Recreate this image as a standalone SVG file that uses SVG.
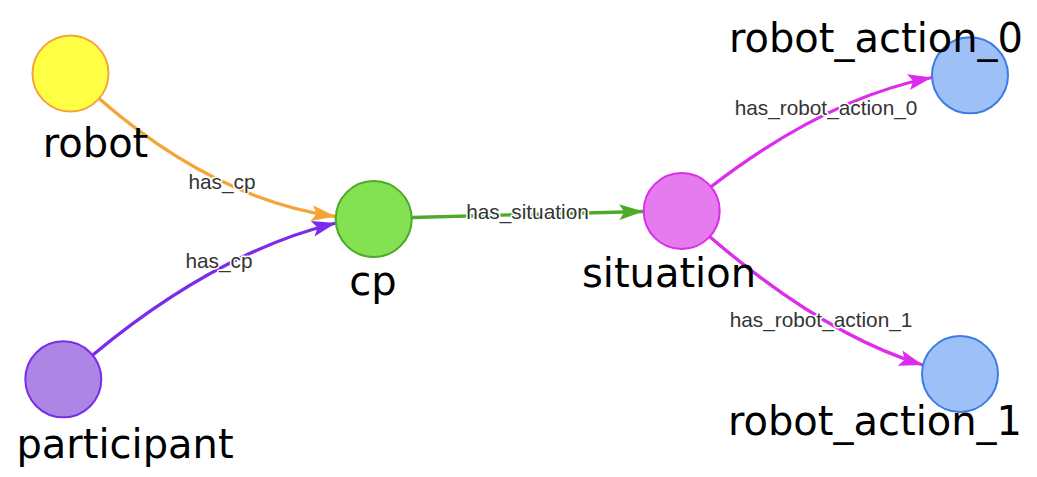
<svg xmlns="http://www.w3.org/2000/svg" width="1037" height="477" viewBox="0 0 1037 477">
<style>
.node circle{stroke-width:2}
.nlabel{font-family:"DejaVu Sans",sans-serif;font-size:40px;fill:#000;text-anchor:middle}
.edge{fill:none;stroke-width:3.3}
.elabel{font-family:"Liberation Sans",Arial,sans-serif;font-size:20.8px;fill:#343434;text-anchor:middle;stroke:#fff;stroke-width:3;paint-order:stroke;stroke-linejoin:round}
</style>
<defs>
<marker id="aOrange" markerUnits="userSpaceOnUse" orient="auto" viewBox="-26 -10 27 20" refX="0" refY="0" markerWidth="27" markerHeight="20"><path d="M0,0 L-24,-8 L-19,0 L-24,8 Z" fill="#F5A435"/></marker>
<marker id="aPurple" markerUnits="userSpaceOnUse" orient="auto" viewBox="-26 -10 27 20" refX="0" refY="0" markerWidth="27" markerHeight="20"><path d="M0,0 L-24,-8 L-19,0 L-24,8 Z" fill="#7B2BEA"/></marker>
<marker id="aGreen" markerUnits="userSpaceOnUse" orient="auto" viewBox="-26 -10 27 20" refX="0" refY="0" markerWidth="27" markerHeight="20"><path d="M0,0 L-24,-8 L-19,0 L-24,8 Z" fill="#4CAA26"/></marker>
<marker id="aMagenta" markerUnits="userSpaceOnUse" orient="auto" viewBox="-26 -10 27 20" refX="0" refY="0" markerWidth="27" markerHeight="20"><path d="M0,0 L-24,-8 L-19,0 L-24,8 Z" fill="#DD2DEC"/></marker>
</defs>
<g id="connectors">
<path class="edge" d="M99,98.5 Q214,199 335.5,216.5" stroke="#F5A435" marker-end="url(#aOrange)"/>
<path class="edge" d="M92.8,354.9 Q217,252 336,223" stroke="#7B2BEA" marker-end="url(#aPurple)"/>
<path class="edge" d="M412,217.5 L643.3,211.5" stroke="#4CAA26" marker-end="url(#aGreen)"/>
<path class="edge" d="M710,187.5 Q826,98 932,77.5" stroke="#DD2DEC" marker-end="url(#aMagenta)"/>
<path class="edge" d="M709.5,236.5 Q824,335 923,365" stroke="#DD2DEC" marker-end="url(#aMagenta)"/>
<text class="elabel" x="222" y="189">has_cp</text>
<text class="elabel" x="219" y="268">has_cp</text>
<text class="elabel" x="527.5" y="219">has_situation</text>
<text class="elabel" x="826" y="115">has_robot_action_0</text>
<text class="elabel" x="821" y="327">has_robot_action_1</text>
</g>
<g id="robot" class="node"><circle cx="70.5" cy="73.5" r="38" fill="#FFFF44" stroke="#F6A43A"/><text class="nlabel" x="95.5" y="157">robot</text></g>
<g id="participant" class="node"><circle cx="63.3" cy="379.3" r="38" fill="#AD85E4" stroke="#7B2BEA"/><text class="nlabel" x="125" y="458">participant</text></g>
<g id="cp" class="node"><circle cx="373.7" cy="219" r="38" fill="#83E152" stroke="#4CAA26"/><text class="nlabel" x="373" y="295">cp</text></g>
<g id="situation" class="node"><circle cx="681.7" cy="211" r="38" fill="#E57BEE" stroke="#DB2EE8"/><text class="nlabel" x="669" y="287">situation</text></g>
<g id="robot_action_0" class="node"><circle cx="970" cy="75.3" r="38" fill="#9DC1F7" stroke="#3C7CE4"/><text class="nlabel" x="876" y="52">robot_action_0</text></g>
<g id="robot_action_1" class="node"><circle cx="960" cy="374" r="38" fill="#9DC1F7" stroke="#3C7CE4"/><text class="nlabel" x="875" y="435">robot_action_1</text></g>
</svg>
